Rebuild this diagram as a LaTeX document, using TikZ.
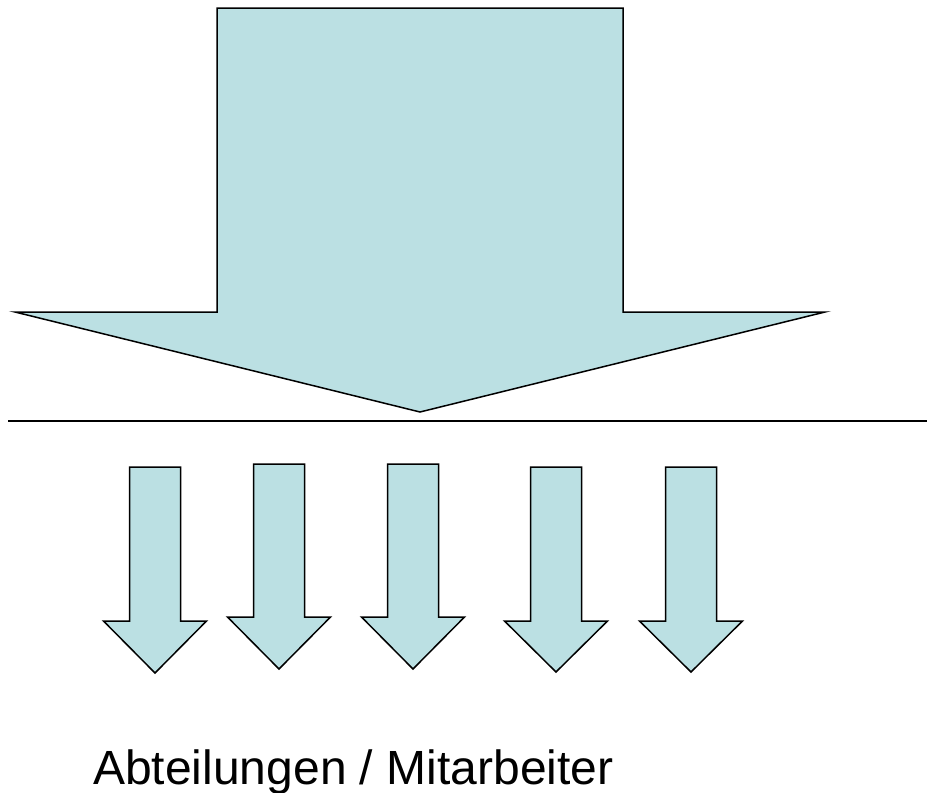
\documentclass[tikz,border=0pt]{standalone}
\usepackage{fontspec}
\setmainfont{Liberation Sans}
\begin{document}
\begin{tikzpicture}[x=1pt, y=-1pt, line join=miter]

    % Farben und Stile
    \definecolor{Pfeilfarbe}{RGB}{187,224,227}
    \tikzset{pfeil/.style={fill=Pfeilfarbe, draw=black, line width=1.5pt}}

    \useasboundingbox (0,0) rectangle (927,793);

    % --- Grosser Pfeil oben ---
    \draw[pfeil] (217,8) -- (623,8) -- (623,312) -- (825,312) -- (420,412)
        -- (15,312) -- (217,312) -- cycle;

    % Trennlinie
    \draw[line width=2pt] (8,421) -- (927,421);

    % --- Kleine Pfeile (Mitte/Oben/Schulter/Spitze) ---
    \foreach \cx/\top/\sh/\tip in {155/467/621/673, 279/464/617/669,
        413/464/617/669, 556/467/621/672, 691/467/621/672} {
        \draw[pfeil] (\cx-25.5,\top) -- (\cx+25.5,\top) -- (\cx+25.5,\sh)
            -- (\cx+51.5,\sh) -- (\cx,\tip) -- (\cx-51.5,\sh)
            -- (\cx-25.5,\sh) -- cycle;
    }

    % Beschriftung
    \node[anchor=base west, inner sep=0pt, font=\fontsize{48}{58}\selectfont]
        (abteilungen) at (93,784) {Abteilungen / Mitarbeiter};

\end{tikzpicture}
\end{document}
